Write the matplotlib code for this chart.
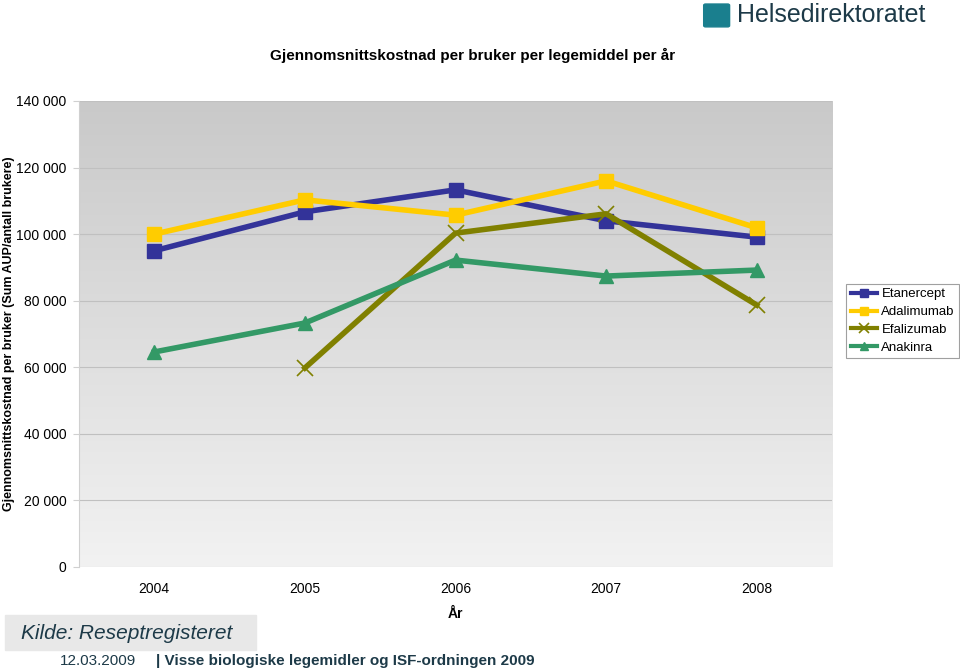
import matplotlib
matplotlib.use("Agg")
import matplotlib.pyplot as plt
import numpy as np
from matplotlib.patches import Rectangle, FancyBboxPatch

years = ["2004", "2005", "2006", "2007", "2008"]
etanercept = [95000, 106700, 113300, 104000, 99100]
adalimumab = [100000, 110300, 105700, 116000, 101900]
efalizumab = [np.nan, 59800, 100300, 106100, 78700]
anakinra = [64600, 73300, 92200, 87400, 89200]
yticks = [0, 20000, 40000, 60000, 80000, 100000, 120000, 140000]

plt.rcParams['font.family'] = ['Liberation Sans', 'DejaVu Sans']

fig = plt.figure(figsize=(9.6, 6.72), dpi=100)
ax = fig.add_axes([0.0823, 0.15625, 0.7844, 0.6935])

# grey gradient background
grad = np.linspace(0, 1, 256).reshape(-1, 1)
ax.imshow(grad, extent=[-0.5, 4.5, 0, 140000], aspect='auto',
          cmap=matplotlib.colors.LinearSegmentedColormap.from_list('g', ['#f2f2f2', '#c9c9c9']),
          origin='lower', zorder=0)

x = np.arange(len(years))
ax.plot(x, etanercept, color='#333399', lw=4, marker='s', ms=10, label='Etanercept', zorder=3)
ax.plot(x, adalimumab, color='#ffcc00', lw=4, marker='s', ms=10, label='Adalimumab', zorder=3)
ax.plot(x, efalizumab, color='#808000', lw=4, marker='x', ms=11, mew=1.2, label='Efalizumab', zorder=3)
ax.plot(x, anakinra, color='#339966', lw=4, marker='^', ms=10, label='Anakinra', zorder=3)

ax.set_xlim(-0.5, 4.5)
ax.set_ylim(0, 140000)
ax.set_yticks(yticks)
ax.set_yticklabels([f"{v:,}".replace(",", " ") for v in yticks], fontsize=10)
ax.set_xticks(x)
ax.set_xticklabels(years, fontsize=10)
ax.grid(axis='y', color='#c0c0c0', lw=0.8, zorder=1)
for s in ax.spines.values():
    s.set_visible(False)
ax.spines['left'].set_visible(True)
ax.spines['left'].set_color('#d0d0d0')
ax.tick_params(axis='y', length=4, color='#d0d0d0', pad=5)
ax.tick_params(axis='x', length=0, pad=11)

ax.set_xlabel("År", fontsize=10, fontweight='bold', labelpad=8)
ax.set_ylabel("Gjennomsnittskostnad per bruker (Sum AUP/antall brukere)",
              fontsize=9, fontweight='bold', va='center')
ax.yaxis.set_label_coords(-0.093, 0.5)

fig.text(0.492, 0.918, "Gjennomsnittskostnad per bruker per legemiddel per år",
         ha='center', va='center', fontsize=11, fontweight='bold')

leg = fig.legend(loc='upper left', bbox_to_anchor=(0.879, 0.582), fontsize=9.5,
                 frameon=True, fancybox=False, edgecolor='#888888', markerscale=0.6,
                 handlelength=2.0, handletextpad=0.3, borderpad=0.35, labelspacing=0.42,
                 borderaxespad=0.2)
leg.get_frame().set_linewidth(0.8)
for line in leg.get_lines():
    line.set_linewidth(3)

# logo
fig.patches.append(FancyBboxPatch((0.735, 0.962), 0.023, 0.03, boxstyle='round,pad=0.002',
                                  transform=fig.transFigure, color='#1a7f8e'))
fig.text(0.768, 0.977, "Helsedirektoratet", ha='left', va='center',
         fontsize=18, color='#1d3a48')

# footer
fig.patches.append(Rectangle((0.005, 0.032), 0.262, 0.053, transform=fig.transFigure,
                             color='#e8e8e8'))
fig.text(0.022, 0.057, "Kilde: Reseptregisteret", fontsize=15, style='italic',
         color='#1d3a48', va='center')
fig.text(0.0625, 0.016, "12.03.2009", fontsize=11, color='#1d3a48', va='center')
fig.text(0.163, 0.016, "| Visse biologiske legemidler og ISF-ordningen 2009",
         fontsize=11, fontweight='bold', color='#1d3a48', va='center')

fig.savefig("out.png", dpi=100)
